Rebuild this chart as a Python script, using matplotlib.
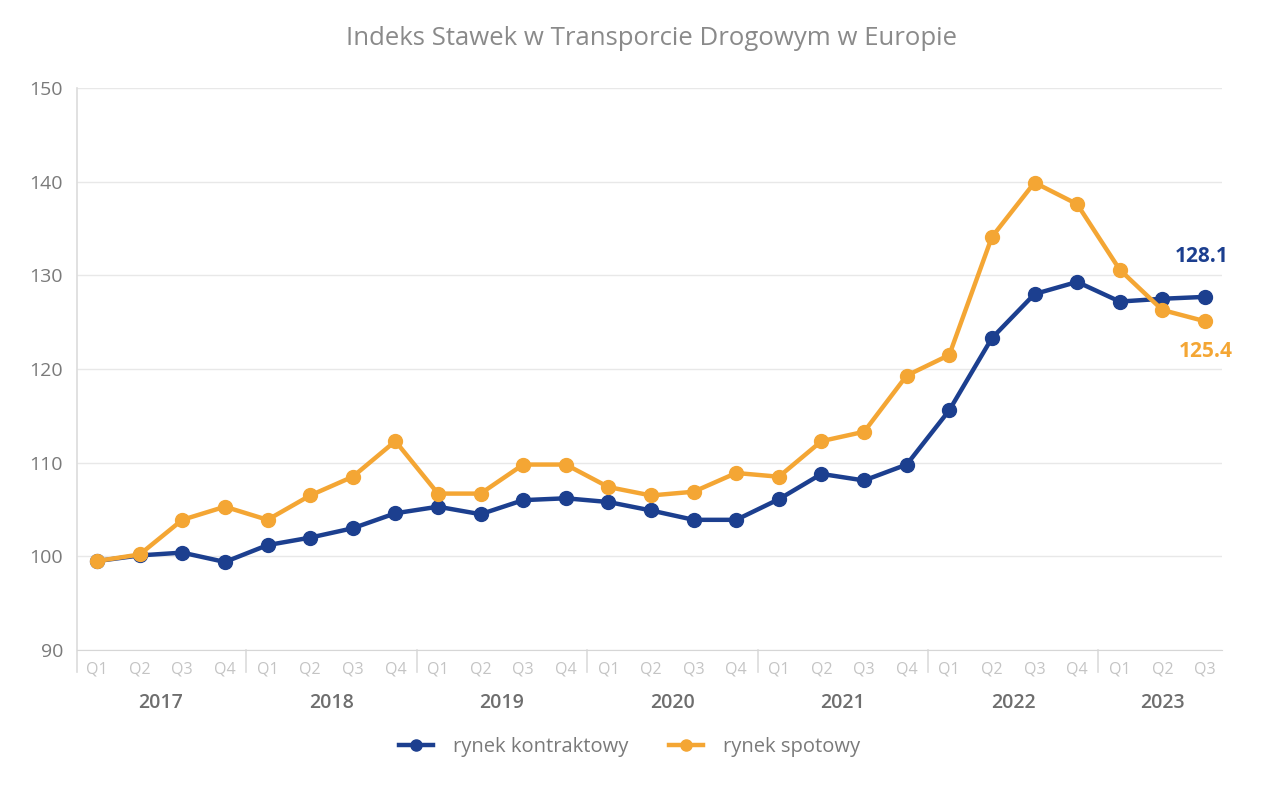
import numpy as np
import matplotlib
matplotlib.use("Agg")
import matplotlib.pyplot as plt
import matplotlib.transforms as mtransforms

plt.rcParams['font.family'] = ['Open Sans', 'DejaVu Sans']

# dane
years = ["2017", "2018", "2019", "2020", "2021", "2022", "2023"]
quarters = ["Q1", "Q2", "Q3", "Q4"] * 6 + ["Q1", "Q2", "Q3"]
kontraktowy = [99.5, 100.1, 100.4, 99.4, 101.2, 102.0, 103.0, 104.6,
               105.3, 104.5, 106.0, 106.2, 105.8, 104.9, 103.9, 103.9,
               106.1, 108.8, 108.1, 109.8, 115.6, 123.3, 128.0, 129.3,
               127.2, 127.5, 127.7]
spotowy = [99.5, 100.2, 103.9, 105.3, 103.9, 106.5, 108.5, 112.3,
           106.7, 106.7, 109.8, 109.8, 107.4, 106.5, 106.9, 108.9,
           108.5, 112.3, 113.3, 119.3, 121.5, 134.1, 139.9, 137.6,
           130.6, 126.3, 125.1]
label_kontr = "128.1"
label_spot = "125.4"

blue = "#1c3f8f"
orange = "#f4a634"

fig = plt.figure(figsize=(12.8, 7.97), dpi=100)
ax = fig.add_axes([0.0602, 0.1844, 0.8945, 0.7052])

x = np.arange(len(kontraktowy))
ax.plot(x, kontraktowy, color=blue, lw=3.2, marker="o", ms=10, label="rynek kontraktowy", zorder=3)
ax.plot(x, spotowy, color=orange, lw=3.2, marker="o", ms=10, label="rynek spotowy", zorder=4)

ax.set_ylim(90, 150)
ax.set_xlim(-0.47, 26.4)
ax.set_yticks(range(90, 151, 10))
ax.tick_params(axis="y", length=0, labelsize=14, labelcolor="#7a7a7a", pad=10)
ax.set_xticks(x)
ax.set_xticklabels(quarters)
ax.tick_params(axis="x", length=0, labelsize=11.5, labelcolor="#c4c4c4", pad=8)

ax.grid(axis="y", color="#e8e8e8", lw=1)
for s in ["top", "right", "left"]:
    ax.spines[s].set_visible(False)
ax.spines["bottom"].set_color("#d6d6d6")

trans = mtransforms.blended_transform_factory(ax.transData, ax.transAxes)
ax.plot([-0.47, -0.47], [-0.039, 1], color="#dcdcdc", lw=1.2, transform=trans, clip_on=False)
for i in range(1, len(years)):
    xs = 4 * i - 0.5
    ax.plot([xs, xs], [-0.039, 0], color="#dcdcdc", lw=1.2, transform=trans, clip_on=False)

# lata pod kwartałami
starts = [0, 4, 8, 12, 16, 20, 24]
for yr, st in zip(years, starts):
    n = 4 if st < 24 else 3
    ax.text(st + (n - 1) / 2, -0.094, yr, transform=trans, ha="center", va="center",
            fontsize=14, color="#6e6e6e", fontweight="semibold")

ax.text(x[-1] + 0.55, kontraktowy[-1] + 4.3, label_kontr, color=blue, fontsize=15,
        fontweight="bold", ha="right", va="center")
ax.text(x[-1] + 0.65, spotowy[-1] - 3.2, label_spot, color=orange, fontsize=15,
        fontweight="bold", ha="right", va="center")

fig.text(0.509, 0.952, "Indeks Stawek w Transporcie Drogowym w Europie", ha="center",
         va="center", fontsize=18.5, color="#8a8a8a")

leg = fig.legend(loc="center", bbox_to_anchor=(0.492, 0.063), ncol=2, frameon=False,
                 fontsize=14.5, handlelength=1.7, columnspacing=2.0, handletextpad=1.0,
                 markerscale=0.8)
for t in leg.get_texts():
    t.set_color("#7a7a7a")

fig.savefig("out.png", dpi=100, facecolor="white")
